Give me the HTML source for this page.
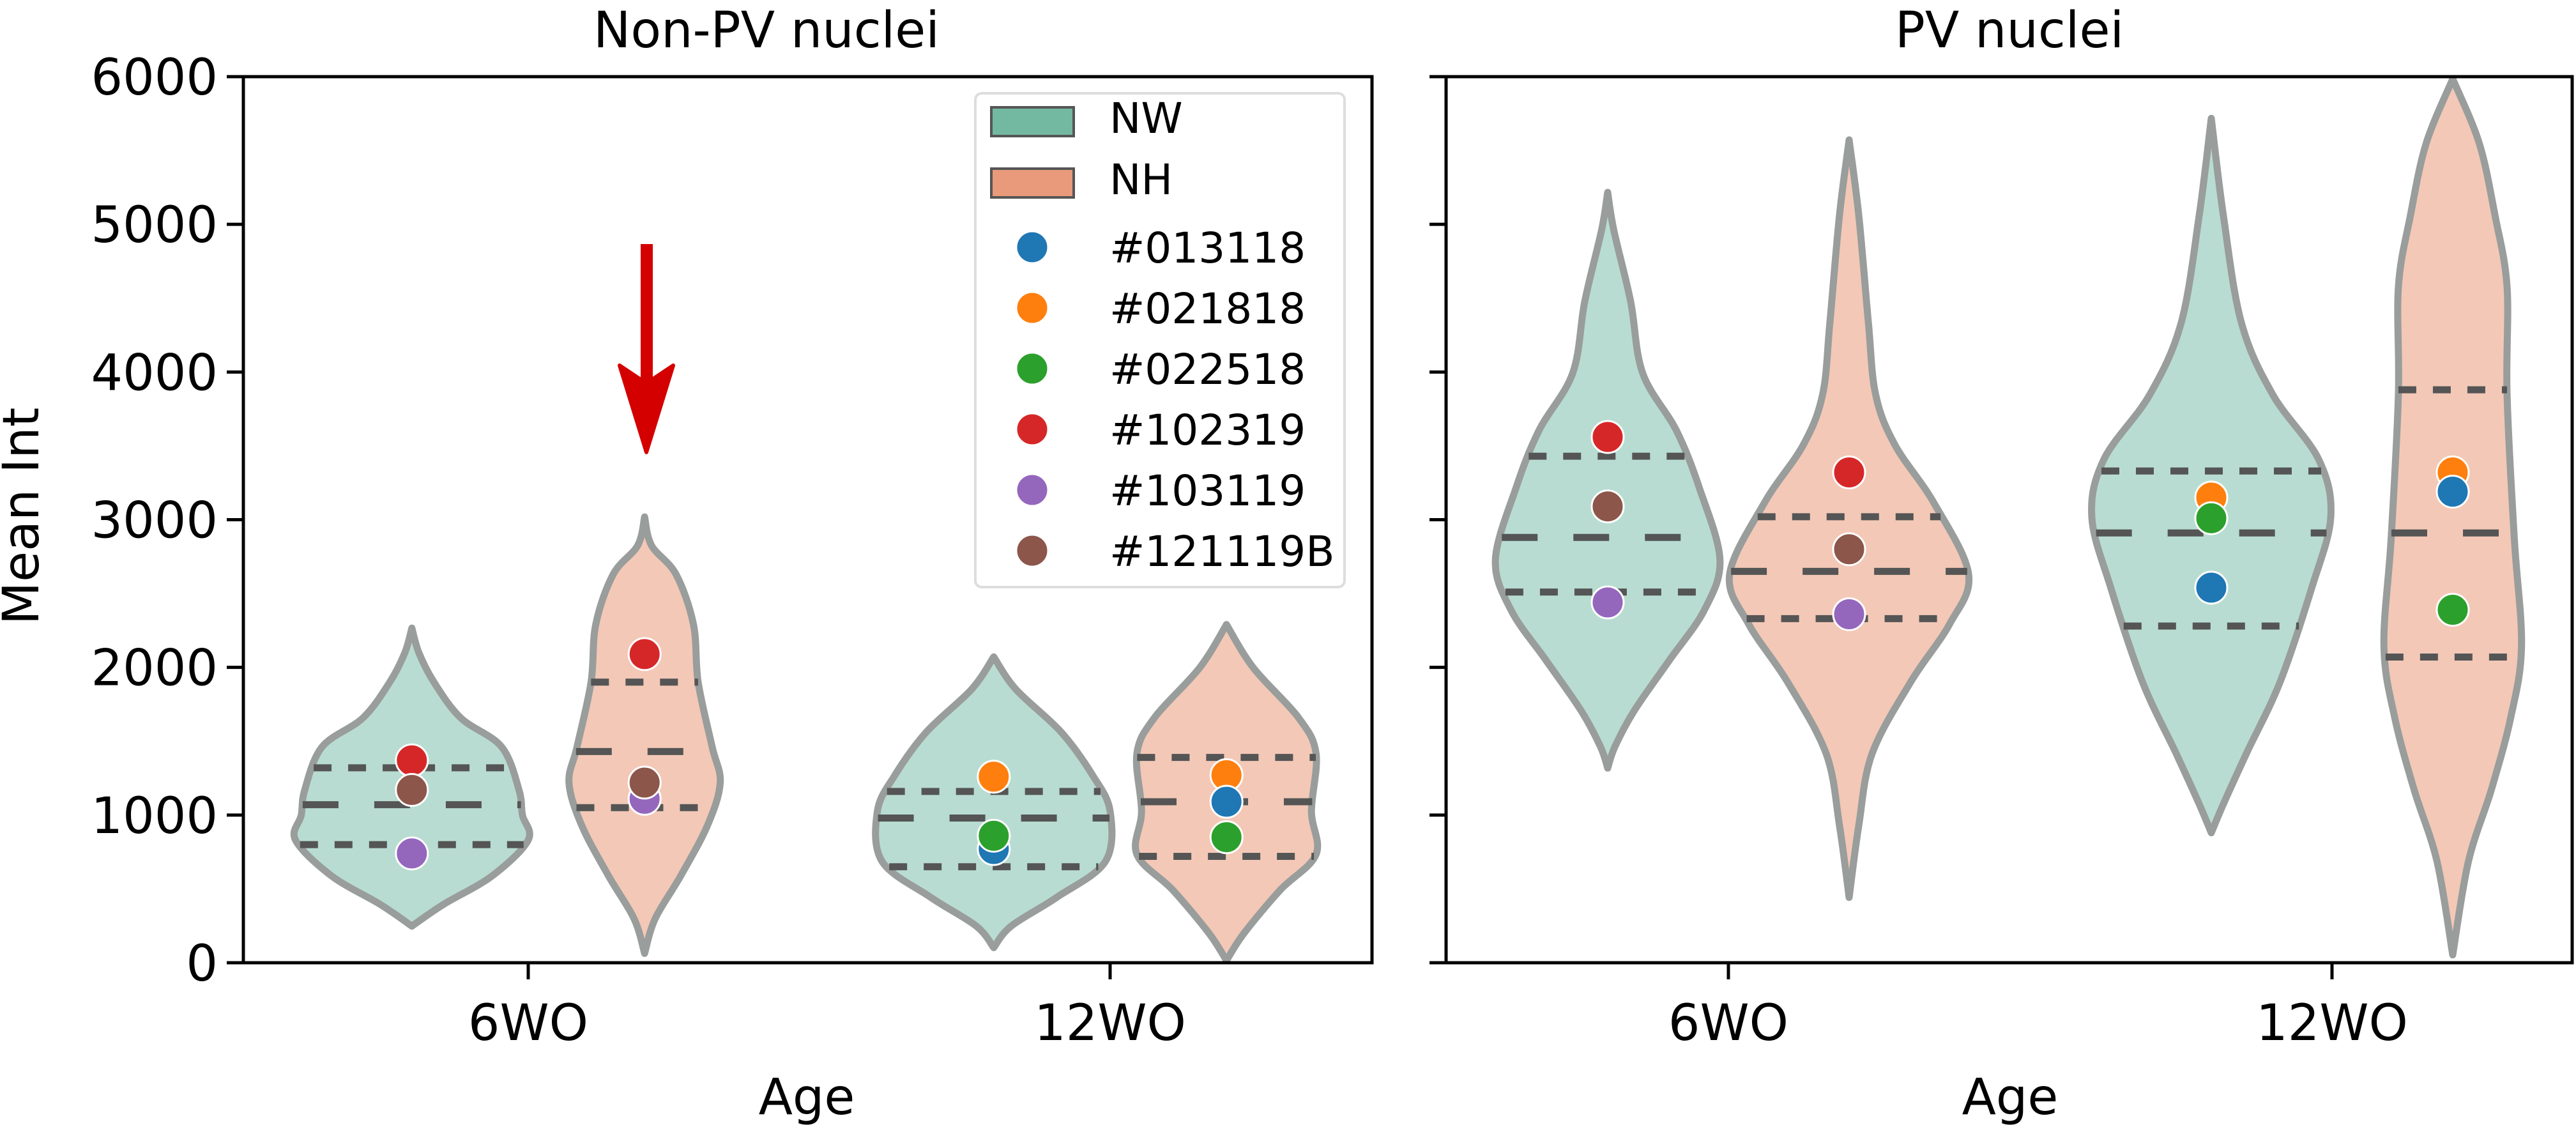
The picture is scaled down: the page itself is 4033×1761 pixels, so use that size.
<!DOCTYPE html>
<html><head><meta charset="utf-8">
<style>
html,body{margin:0;padding:0;background:#fff;}
svg{display:block;font-family:"DejaVu Sans","Liberation Sans",sans-serif;}
</style></head>
<body>
<svg id="chart" width="4033" height="1761" viewBox="0 0 4033 1761" xmlns="http://www.w3.org/2000/svg"></svg>
<script>
// ---- data ----
const categories = ['6WO', '12WO'];
const groups = ['NW', 'NH'];
const yTicks = [0, 1000, 2000, 3000, 4000, 5000, 6000];
const subjects = ['#013118', '#021818', '#022518', '#102319', '#103119', '#121119B'];
const subjectColors = ['#1f77b4', '#ff7f0e', '#2ca02c', '#d62728', '#9467bd', '#8c564b'];

// Non-PV panel violins (vals: intensity levels, widths: relative density)
const npNW6Vals = [248, 394, 588, 831, 1000, 1172, 1463, 1658, 1900, 2100, 2266];
const npNW6Widths = [0, 0.27, 0.69, 1, 0.95, 0.92, 0.77, 0.42, 0.19, 0.06, 0];
const npNW6Quart = [800, 1070, 1320];
const npNW6Pts = [[3, 1370], [5, 1170], [4, 740]];

const npNH6Vals = [63, 297, 588, 929, 1220, 1463, 1901, 2290, 2630, 2825, 3019];
const npNH6Widths = [0, 0.09, 0.31, 0.54, 0.65, 0.58, 0.46, 0.42, 0.27, 0.06, 0];
const npNH6Quart = [1050, 1430, 1900];
const npNH6Pts = [[3, 2090], [4, 1110], [5, 1220]];

const npNW12Vals = [102, 248, 442, 686, 1026, 1269, 1561, 1852, 2071];
const npNW12Widths = [0, 0.15, 0.54, 0.96, 1, 0.85, 0.58, 0.19, 0];
const npNW12Quart = [650, 980, 1160];
const npNW12Pts = [[1, 1260], [0, 770], [2, 860]];

const npNH12Vals = [15, 199, 491, 734, 1026, 1415, 1658, 1998, 2290];
const npNH12Widths = [0, 0.15, 0.46, 0.77, 0.73, 0.77, 0.62, 0.23, 0];
const npNH12Quart = [720, 1090, 1390];
const npNH12Pts = [[1, 1270], [0, 1090], [2, 850]];

// PV panel violins
const pvNW6Vals = [1318, 1463, 1707, 2047, 2387, 2728, 3214, 3603, 3992, 4478, 4964, 5217];
const pvNW6Widths = [0, 0.06, 0.22, 0.51, 0.80, 0.93, 0.76, 0.57, 0.29, 0.19, 0.05, 0];
const pvNW6Quart = [2510, 2880, 3430];
const pvNW6Pts = [[3, 3560], [5, 3090], [4, 2440]];

const pvNH6Vals = [442, 929, 1415, 1901, 2290, 2630, 3117, 3506, 3846, 4332, 5061, 5572];
const pvNH6Widths = [0, 0.08, 0.19, 0.51, 0.83, 0.99, 0.70, 0.38, 0.22, 0.16, 0.08, 0];
const pvNH6Quart = [2330, 2650, 3020];
const pvNH6Pts = [[3, 3320], [5, 2800], [4, 2360]];

const pvNW12Vals = [880, 1074, 1415, 1901, 2533, 3019, 3408, 3846, 4332, 5061, 5718];
const pvNW12Widths = [0, 0.1, 0.29, 0.57, 0.83, 0.99, 0.89, 0.51, 0.25, 0.1, 0];
const pvNW12Quart = [2280, 2910, 3330];
const pvNW12Pts = [[1, 3150], [2, 3010], [0, 2540]];

const pvNH12Vals = [53, 686, 1172, 1658, 2144, 2874, 3846, 4575, 5061, 5548, 5985];
const pvNH12Widths = [0, 0.13, 0.32, 0.48, 0.57, 0.51, 0.45, 0.45, 0.35, 0.22, 0];
const pvNH12Quart = [2070, 2910, 3880];
const pvNH12Pts = [[1, 3320], [0, 3190], [2, 2390]];

// ---- layout ----
const NS = 'http://www.w3.org/2000/svg';
const svg = document.getElementById('chart');
function mk(tag, attrs, parent) {
  const e = document.createElementNS(NS, tag);
  for (const k in attrs) e.setAttribute(k, attrs[k]);
  (parent || svg).appendChild(e);
  return e;
}
const panels = [
  {name: 'non-pv', left: 381, right: 2148, cat0: 827, step: 911, title: 'Non-PV nuclei', titleX: 1200, ageX: 1263, labels: true,
   violins: [
     {cat: 0, grp: 0, vals: npNW6Vals, widths: npNW6Widths, quart: npNW6Quart, pts: npNW6Pts},
     {cat: 0, grp: 1, vals: npNH6Vals, widths: npNH6Widths, quart: npNH6Quart, pts: npNH6Pts},
     {cat: 1, grp: 0, vals: npNW12Vals, widths: npNW12Widths, quart: npNW12Quart, pts: npNW12Pts},
     {cat: 1, grp: 1, vals: npNH12Vals, widths: npNH12Widths, quart: npNH12Quart, pts: npNH12Pts}]},
  {name: 'pv', left: 2264, right: 4027, cat0: 2706, step: 945, title: 'PV nuclei', titleX: 3146, ageX: 3147, labels: false,
   violins: [
     {cat: 0, grp: 0, vals: pvNW6Vals, widths: pvNW6Widths, quart: pvNW6Quart, pts: pvNW6Pts},
     {cat: 0, grp: 1, vals: pvNH6Vals, widths: pvNH6Widths, quart: pvNH6Quart, pts: pvNH6Pts},
     {cat: 1, grp: 0, vals: pvNW12Vals, widths: pvNW12Widths, quart: pvNW12Quart, pts: pvNW12Pts},
     {cat: 1, grp: 1, vals: pvNH12Vals, widths: pvNH12Widths, quart: pvNH12Quart, pts: pvNH12Pts}]}
];
const TOP = 120, BOT = 1507, YMAX = 6000;
function yPx(v) { return BOT - v * (BOT - TOP) / YMAX; }
const fills = ['#b8dcd1', '#f3c8b7'];
const legendFills = ['#73b8a0', '#e89a7a'];

function widthAt(vals, widths, v) {
  if (v <= vals[0] || v >= vals[vals.length - 1]) return 0;
  for (let i = 0; i < vals.length - 1; i++) {
    if (v >= vals[i] && v <= vals[i + 1]) {
      const t = (v - vals[i]) / (vals[i + 1] - vals[i]);
      return widths[i] + t * (widths[i + 1] - widths[i]);
    }
  }
  return 0;
}
function smoothPath(pts) {
  let d = 'M' + pts[0][0] + ',' + pts[0][1];
  for (let i = 0; i < pts.length - 1; i++) {
    const p0 = pts[Math.max(0, i - 1)], p1 = pts[i], p2 = pts[i + 1], p3 = pts[Math.min(pts.length - 1, i + 2)];
    const c1x = p1[0] + (p2[0] - p0[0]) / 6, c1y = p1[1] + (p2[1] - p0[1]) / 6;
    const c2x = p2[0] - (p3[0] - p1[0]) / 6, c2y = p2[1] - (p3[1] - p1[1]) / 6;
    d += ' C' + c1x.toFixed(1) + ',' + c1y.toFixed(1) + ' ' + c2x.toFixed(1) + ',' + c2y.toFixed(1) + ' ' + p2[0].toFixed(1) + ',' + p2[1].toFixed(1);
  }
  return d;
}

panels.forEach(p => {
  const g = mk('g', {});
  
  
  const half = 0.2 * p.step;
  function xCenter(cat, grp) { return p.cat0 + cat * p.step + (grp === 0 ? -half : half); }

  p.violins.forEach(vi => {
    const cx = xCenter(vi.cat, vi.grp);
    const vg = mk('g', {}, g);
    
    
    const right = vi.vals.map((v, i) => [cx + vi.widths[i] * half, yPx(v)]);
    const left = vi.vals.map((v, i) => [cx - vi.widths[i] * half, yPx(v)]).reverse();
    const dR = smoothPath(right);
    const dL = smoothPath(left).replace(/^M/, 'L');
    const body = mk('path', {d: dR + ' ' + dL + ' Z', fill: fills[vi.grp], stroke: '#999d9b', 'stroke-width': 11, 'stroke-linejoin': 'round'}, vg);
    
    
    vi.quart.forEach((q, qi) => {
      const w = widthAt(vi.vals, vi.widths, q) * half;
      const isMed = qi === 1;
      const ln = mk('line', {x1: cx - w, x2: cx + w, y1: yPx(q), y2: yPx(q), stroke: '#555555', 'stroke-width': 11,
        'stroke-dasharray': isMed ? '56 56' : '28 26'}, vg);
      
      
    });
    vi.pts.forEach(pt => {
      const c = mk('circle', {cx: cx, cy: yPx(pt[1]), r: 25, fill: subjectColors[pt[0]], stroke: '#ffffff', 'stroke-width': 3}, vg);
      
      
    });
  });

  // frame
  const fr = mk('rect', {x: p.left, y: TOP, width: p.right - p.left, height: BOT - TOP, fill: 'none', stroke: '#000', 'stroke-width': 5}, g);
  
  
  // y ticks
  yTicks.forEach(t => {
    const tk = mk('line', {x1: p.left - 26, x2: p.left, y1: yPx(t), y2: yPx(t), stroke: '#000', 'stroke-width': 5}, g);
    
    
    if (p.labels) {
      const tx = mk('text', {x: p.left - 40, y: yPx(t) + 28, 'text-anchor': 'end', 'font-size': 78, fill: '#000'}, g);
      tx.textContent = t;
      
      
    }
  });
  // x ticks
  categories.forEach((c, i) => {
    const x = p.cat0 + i * p.step;
    const tk = mk('line', {x1: x, x2: x, y1: BOT, y2: BOT + 26, stroke: '#000', 'stroke-width': 5}, g);
    
    
    const tx = mk('text', {x: x, y: 1628, 'text-anchor': 'middle', 'font-size': 78, fill: '#000'}, g);
    tx.textContent = c;
    
    
  });
  const ax = mk('text', {x: p.ageX, y: 1744, 'text-anchor': 'middle', 'font-size': 78, fill: '#000'}, g);
  ax.textContent = 'Age';
  
  
  const tt = mk('text', {x: p.titleX, y: 74, 'text-anchor': 'middle', 'font-size': 78, fill: '#000'}, g);
  tt.textContent = p.title;
  
  
});

// y axis title
const yt = mk('text', {x: 0, y: 0, transform: 'translate(60,808) rotate(-90)', 'text-anchor': 'middle', 'font-size': 78, fill: '#000'});
yt.textContent = 'Mean Int';



// annotation arrow
const ar = mk('g', {});


mk('rect', {x: 1003, y: 382, width: 19, height: 215, fill: '#d40000'}, ar);
mk('path', {d: 'M970,572 L1012,600 L1054,572 L1012,708 Z', fill: '#d40000', stroke: '#d40000', 'stroke-width': 6, 'stroke-linejoin': 'round'}, ar);

// legend
const lg = mk('g', {});


mk('rect', {x: 1527, y: 146, width: 578, height: 773, rx: 10, fill: '#fff', 'fill-opacity': 0.8, stroke: '#dddddd', 'stroke-width': 4}, lg);
groups.forEach((gname, i) => {
  const y = 168 + i * 96;
  const r = mk('rect', {x: 1552, y: y, width: 129, height: 45, fill: legendFills[i], stroke: '#555', 'stroke-width': 4}, lg);
  
  
  const t = mk('text', {x: 1737, y: y + 40, 'font-size': 66, fill: '#000'}, lg);
  t.textContent = gname;
  
  
});
subjects.forEach((s, i) => {
  const y = 387 + i * 95;
  const c = mk('circle', {cx: 1616, cy: y, r: 25, fill: subjectColors[i], stroke: '#fff', 'stroke-width': 3}, lg);
  
  
  const t = mk('text', {x: 1737, y: y + 24, 'font-size': 66, fill: '#000'}, lg);
  t.textContent = s;
  
  
});
</script>
</body></html>
